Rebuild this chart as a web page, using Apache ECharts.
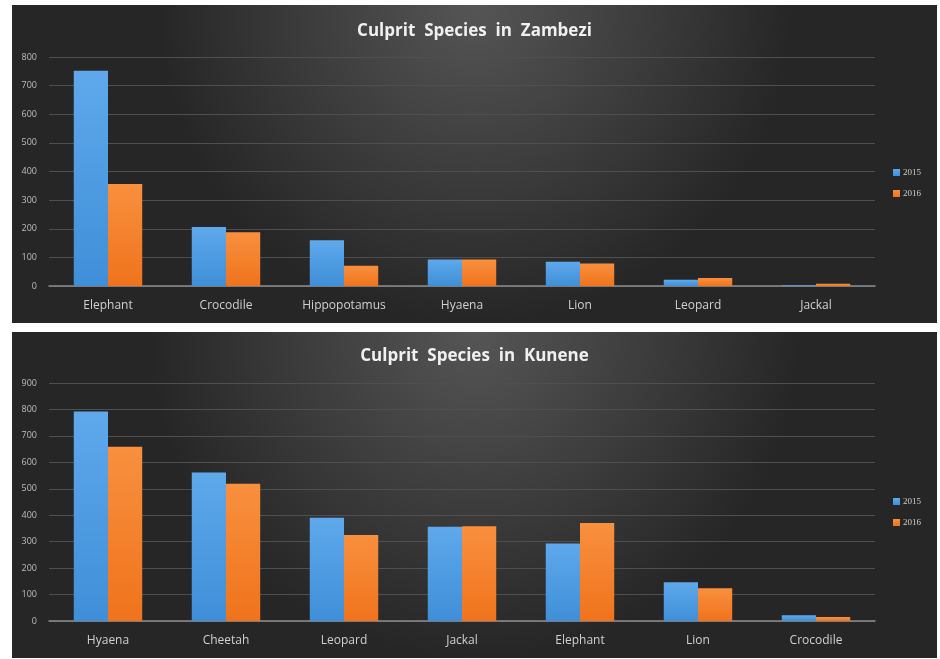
<!DOCTYPE html>
<html>
<head>
<meta charset="utf-8">
<script src="https://cdn.jsdelivr.net/npm/echarts@6/dist/echarts.min.js"></script>
<style>
  html, body { margin: 0; padding: 0; background: #fff; }
  #wrap { position: relative; width: 940px; height: 659px; background: #fff; }
  .panel { position: absolute; left: 12px; width: 925px; }
  #zambezi { top: 5px; height: 318px; }
  #kunene { top: 332px; height: 326px; }
</style>
</head>
<body>
<div id="wrap">
  <div id="zambezi" class="panel"></div>
  <div id="kunene" class="panel"></div>
</div>
<script>
// Zambezi
const zambeziSpecies = ['Elephant', 'Crocodile', 'Hippopotamus', 'Hyaena', 'Lion', 'Leopard', 'Jackal'];
const zambezi2015 = [752, 206, 160, 93, 85, 22, 3];
const zambezi2016 = [356, 188, 71, 93, 79, 28, 8];

// Kunene
const kuneneSpecies = ['Hyaena', 'Cheetah', 'Leopard', 'Jackal', 'Elephant', 'Lion', 'Crocodile'];
const kunene2015 = [792, 562, 390, 356, 293, 147, 22];
const kunene2016 = [659, 519, 325, 358, 371, 124, 15];

const years = ['2015', '2016'];

const blueFill = new echarts.graphic.LinearGradient(0, 0, 0, 1, [
  { offset: 0, color: '#5fa8ec' },
  { offset: 1, color: '#3f8fd8' }
]);
const orangeFill = new echarts.graphic.LinearGradient(0, 0, 0, 1, [
  { offset: 0, color: '#f8903e' },
  { offset: 1, color: '#f0731c' }
]);

function makeOption(title, cats, a, b, max, layout) {
  return {
    backgroundColor: {
      type: 'radial', x: 0.5, y: 0.0, r: 1.0,
      colorStops: [
        { offset: 0, color: '#555555' },
        { offset: 0.6, color: '#393939' },
        { offset: 1, color: '#262626' }
      ]
    },
    animation: false,
    title: {
      text: title,
      left: 'center',
      top: layout.titleTop,
      textStyle: {
        color: '#f0f0f0',
        fontFamily: 'Open Sans',
        fontWeight: 'bold',
        fontSize: 17
      }
    },
    legend: {
      orient: 'vertical',
      left: 876,
      top: layout.legendTop,
      itemWidth: 7,
      itemHeight: 7,
      itemGap: 12,
      icon: 'rect',
      textStyle: { color: '#cfcfcf', fontSize: 9, fontFamily: 'Liberation Serif', padding: [0, 0, 0, -2] },
      data: years
    },
    grid: {
      left: 37,
      right: 62,
      top: layout.gridTop,
      bottom: layout.gridBottom,
      containLabel: false
    },
    xAxis: {
      type: 'category',
      data: cats,
      axisTick: { show: false },
      axisLine: { lineStyle: { color: '#8c8c8c', width: 1.5 } },
      axisLabel: { color: '#d0d0d0', fontSize: 12, fontFamily: 'Open Sans', margin: 14 }
    },
    yAxis: {
      type: 'value',
      min: 0,
      max: max,
      interval: 100,
      axisLine: { show: false },
      axisTick: { show: false },
      splitLine: { lineStyle: { color: '#4f4f4f', width: 1 } },
      axisLabel: { color: '#bdbdbd', fontSize: 9, fontFamily: 'Open Sans', margin: 12 }
    },
    series: [
      {
        name: years[0],
        type: 'bar',
        data: a,
        barGap: '0%',
        barCategoryGap: '42%',
        itemStyle: { color: blueFill }
      },
      {
        name: years[1],
        type: 'bar',
        data: b,
        itemStyle: { color: orangeFill }
      }
    ],
    color: ['#5b9bd5', '#ed7d31']
  };
}

const topChart = echarts.init(document.getElementById('zambezi'));
topChart.setOption(makeOption('Culprit  Species  in  Zambezi', zambeziSpecies, zambezi2015, zambezi2016, 800,
  { titleTop: 13, legendTop: 158, gridTop: 52, gridBottom: 37 }));

const bottomChart = echarts.init(document.getElementById('kunene'));
bottomChart.setOption(makeOption('Culprit  Species  in  Kunene', kuneneSpecies, kunene2015, kunene2016, 900,
  { titleTop: 11, legendTop: 160, gridTop: 51, gridBottom: 37 }));
</script>
</body>
</html>
